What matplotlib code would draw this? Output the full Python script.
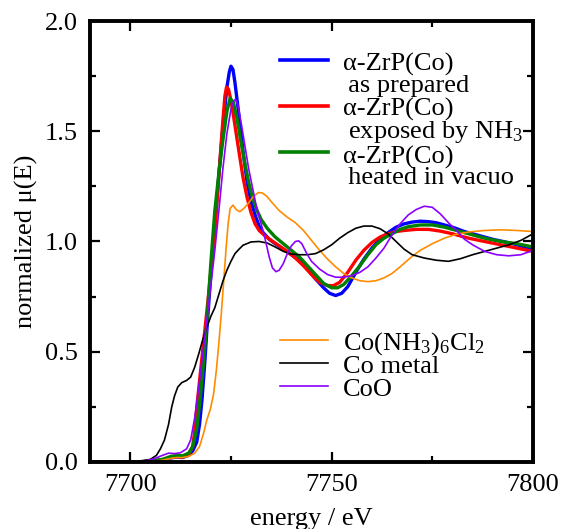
import matplotlib
matplotlib.use("Agg")
import matplotlib.pyplot as plt
from matplotlib.ticker import MultipleLocator

plt.rcParams['font.family'] = ['Liberation Serif', 'DejaVu Serif']
plt.rcParams['mathtext.fontset'] = 'custom'
plt.rcParams['mathtext.rm'] = 'Liberation Serif'
plt.rcParams['mathtext.it'] = 'Liberation Serif:italic'

# --- data (energy in eV, normalized mu(E)) ---
e_prep = [7690, 7700, 7705, 7708, 7710, 7711.5, 7713, 7714.5, 7715.5, 7716.5,
          7717.2, 7717.8, 7718.5, 7719.1, 7720, 7721, 7722, 7723, 7724, 7724.6,
          7725, 7725.5, 7726, 7727, 7728, 7729, 7730, 7731, 7732, 7733, 7734.5,
          7736, 7738, 7740, 7742, 7744, 7746, 7748, 7749.5, 7751, 7752.5, 7754,
          7756, 7758, 7760, 7762, 7764, 7766, 7768, 7770, 7772, 7774, 7776,
          7778, 7780, 7783, 7786, 7790, 7795, 7800]
mu_prep = [0.0, 0.0, 0.003, 0.01, 0.018, 0.022, 0.02, 0.03, 0.05, 0.09,
           0.17, 0.28, 0.45, 0.62, 0.85, 1.07, 1.30, 1.52, 1.70, 1.77,
           1.795, 1.78, 1.72, 1.57, 1.41, 1.27, 1.18, 1.12, 1.07, 1.04, 1.01,
           0.99, 0.965, 0.94, 0.915, 0.875, 0.83, 0.79, 0.765, 0.755, 0.765, 0.795,
           0.86, 0.92, 0.97, 1.01, 1.04, 1.065, 1.08, 1.088, 1.092, 1.09, 1.085,
           1.075, 1.065, 1.045, 1.03, 1.01, 0.99, 0.965]

e_nh3 = [7690, 7700, 7705, 7708, 7710, 7711.5, 7713, 7714.5, 7715.5, 7716,
         7716.7, 7717.5, 7718.3, 7719, 7720, 7721, 7722, 7723, 7723.5, 7723.9,
         7724.4, 7725, 7725.8, 7726.8, 7728, 7729, 7730, 7731, 7732, 7733.5,
         7735, 7737, 7739, 7741, 7743, 7745, 7747, 7749, 7750.5, 7752, 7754,
         7756, 7758, 7760, 7762, 7764, 7766, 7768, 7771, 7774, 7777, 7780,
         7784, 7788, 7792, 7796, 7800]
mu_nh3 = [0.0, 0.0, 0.003, 0.01, 0.02, 0.025, 0.022, 0.035, 0.07, 0.14,
          0.28, 0.42, 0.56, 0.68, 0.86, 1.05, 1.30, 1.55, 1.66, 1.70,
          1.69, 1.64, 1.55, 1.43, 1.29, 1.20, 1.13, 1.08, 1.05, 1.025,
          1.005, 0.98, 0.955, 0.925, 0.89, 0.85, 0.815, 0.80, 0.80, 0.815, 0.86,
          0.915, 0.96, 0.995, 1.02, 1.035, 1.045, 1.05, 1.055, 1.055, 1.047, 1.035,
          1.015, 1.0, 0.985, 0.97, 0.955]

e_vac = [7690, 7700, 7705, 7708, 7710, 7711.5, 7713, 7714.5, 7715.5, 7716.5,
         7717.3, 7718.2, 7719, 7720, 7721, 7722, 7723, 7724, 7724.8, 7725.6,
         7726.5, 7727.5, 7728.5, 7729.5, 7730.5, 7731.5, 7732.5, 7734, 7736,
         7738, 7740, 7742, 7744, 7746, 7748, 7750, 7751.5, 7753, 7755, 7757,
         7759, 7761, 7763, 7765, 7767, 7769, 7772, 7775, 7778, 7781, 7784,
         7788, 7792, 7796, 7800]
mu_vac = [0.0, 0.0, 0.003, 0.012, 0.025, 0.03, 0.028, 0.04, 0.07, 0.15,
          0.28, 0.45, 0.63, 0.90, 1.14, 1.31, 1.46, 1.59, 1.65, 1.63,
          1.56, 1.45, 1.35, 1.26, 1.19, 1.14, 1.10, 1.06, 1.02,
          0.99, 0.96, 0.93, 0.89, 0.85, 0.81, 0.79, 0.79, 0.805, 0.845, 0.89,
          0.94, 0.985, 1.015, 1.035, 1.055, 1.067, 1.075, 1.075, 1.065, 1.05, 1.035,
          1.015, 1.0, 0.99, 0.975]

e_cohex = [7690, 7700, 7706, 7708, 7710, 7711.5, 7713, 7714.5, 7716, 7717.2,
           7718.2, 7719, 7719.9, 7720.7, 7721.4, 7722, 7722.6, 7723.2, 7723.8,
           7724.3, 7724.8, 7725.5, 7726.3, 7727.2, 7728.2, 7729.4, 7730.6,
           7731.8, 7732.8, 7733.9, 7735.5, 7737, 7739, 7741, 7743, 7745, 7747,
           7749, 7751, 7753, 7755, 7757, 7759, 7761, 7763, 7765, 7767, 7769.5,
           7772, 7775, 7778, 7781, 7784, 7788, 7792, 7796, 7800]
mu_cohex = [0.0, 0.0, 0.003, 0.008, 0.016, 0.02, 0.02, 0.025, 0.04, 0.07,
            0.13, 0.19, 0.24, 0.31, 0.42, 0.54, 0.67, 0.82, 0.97,
            1.08, 1.15, 1.165, 1.145, 1.135, 1.15, 1.175, 1.205,
            1.222, 1.22, 1.205, 1.17, 1.14, 1.11, 1.085, 1.05, 1.005, 0.96,
            0.92, 0.885, 0.855, 0.835, 0.822, 0.818, 0.822, 0.835, 0.855, 0.885, 0.925,
            0.96, 0.99, 1.015, 1.033, 1.043, 1.05, 1.053, 1.05, 1.045]

e_metal = [7690, 7700, 7703, 7705, 7706.5, 7707.5, 7708.5, 7709.5, 7710.3, 7711,
           7711.8, 7712.8, 7714, 7715, 7716, 7717, 7718, 7719, 7720, 7721, 7722,
           7723, 7724, 7725, 7726, 7727, 7728, 7730, 7732, 7734, 7736, 7738,
           7740, 7742, 7744, 7746, 7748, 7750, 7752, 7754, 7756, 7758, 7760,
           7762, 7764, 7766, 7768, 7770, 7773, 7776, 7779, 7782, 7785, 7788,
           7791, 7794, 7797, 7800]
mu_metal = [0.0, 0.002, 0.005, 0.012, 0.03, 0.06, 0.10, 0.17, 0.25, 0.30,
            0.34, 0.36, 0.37, 0.385, 0.43, 0.49, 0.555, 0.61, 0.66, 0.70, 0.76,
            0.82, 0.87, 0.91, 0.945, 0.965, 0.983, 0.998, 1.0, 0.993, 0.975, 0.955,
            0.943, 0.94, 0.94, 0.945, 0.962, 0.985, 1.015, 1.04, 1.06, 1.07, 1.07,
            1.058, 1.035, 1.0, 0.965, 0.94, 0.925, 0.915, 0.91, 0.922, 0.94, 0.955,
            0.97, 0.985, 1.005, 1.035]

e_coo = [7690, 7700, 7704, 7706, 7708, 7709.5, 7711, 7712.5, 7714, 7715, 7716,
         7717, 7718, 7719, 7720, 7721, 7722, 7723, 7724, 7725, 7725.6, 7726.1,
         7726.7, 7727.7, 7728.5, 7729.4, 7730.4, 7731.4, 7732.5, 7733.5, 7734.5,
         7735.3, 7736.2, 7737, 7738, 7739, 7740, 7741, 7741.8, 7742.6, 7743.8,
         7745, 7747, 7749, 7751, 7753, 7755, 7757, 7759, 7761, 7763, 7765,
         7767, 7769, 7771, 7773, 7775, 7777, 7779, 7781, 7783, 7785, 7788,
         7791, 7794, 7797, 7800]
mu_coo = [0.0, 0.002, 0.006, 0.015, 0.03, 0.04, 0.038, 0.042, 0.06, 0.10, 0.20,
          0.34, 0.49, 0.64, 0.80, 0.96, 1.14, 1.33, 1.49, 1.60, 1.635, 1.645,
          1.62, 1.52, 1.43, 1.33, 1.24, 1.15, 1.08, 1.01, 0.93,
          0.88, 0.863, 0.87, 0.90, 0.945, 0.98, 1.0, 1.003, 0.99, 0.946,
          0.91, 0.875, 0.85, 0.838, 0.838, 0.845, 0.86, 0.885, 0.925, 0.97, 1.03,
          1.08, 1.12, 1.145, 1.16, 1.155, 1.125, 1.085, 1.05, 1.01, 0.985, 0.955,
          0.94, 0.935, 0.94, 0.96]

samples = [
    (e_prep, mu_prep, '#0000ff', '\u03b1-ZrP(Co)\n\u2009as prepared'),
    (e_nh3, mu_nh3, '#ff0000', '\u03b1-ZrP(Co)\n\u2009exposed by NH$_3$'),
    (e_vac, mu_vac, '#008000', '\u03b1-ZrP(Co)\n\u2009heated in vacuo'),
]
references = [
    (e_cohex, mu_cohex, '#ff8c00', 'Co(NH$_3$)$_6$Cl$_2$'),
    (e_metal, mu_metal, '#000000', 'Co metal'),
    (e_coo, mu_coo, '#8b00ff', 'CoO'),
]


def main():
    fig = plt.figure(figsize=(5.61, 5.29), dpi=100)
    ax = fig.add_axes([0.1604, 0.1267, 0.7897, 0.8336])

    for e, mu, c, _ in samples:
        ax.plot(e, mu, color=c, lw=2.4, solid_joinstyle='round')
    for e, mu, c, _ in references:
        ax.plot(e, mu, color=c, lw=1.2, solid_joinstyle='round')

    ax.set_xlim(7690, 7800)
    ax.set_ylim(0, 2.0)
    ax.xaxis.set_major_locator(MultipleLocator(50))
    ax.xaxis.set_minor_locator(MultipleLocator(25))
    ax.yaxis.set_major_locator(MultipleLocator(0.5))
    ax.yaxis.set_minor_locator(MultipleLocator(0.25))
    ax.yaxis.set_major_formatter(plt.FormatStrFormatter('%.1f'))
    ax.tick_params(which='both', direction='in', top=True, right=True,
                   width=1.6, labelsize=19)
    ax.tick_params(which='major', length=7, pad=9)
    ax.tick_params(which='minor', length=4.5)
    for s in ax.spines.values():
        s.set_linewidth(2.8)

    ax.set_xlabel('energy / eV', fontsize=19)
    ax.set_ylabel('normalized \u03bc(E)', fontsize=19)
    ax.xaxis.set_label_coords(0.5, -0.105)
    ax.yaxis.set_label_coords(-0.118, 0.5)

    # hand-made legends (handle line + text), axes fraction units;
    # the two-line labels are anchored on the baseline of their second line
    h0, h1, tx = 0.429, 0.537, 0.571
    y = 0.912
    for _, _, c, lab in samples:
        ax.plot([h0, h1], [y, y], color=c, lw=2.6, transform=ax.transAxes)
        ax.text(tx, y - 0.0726, lab, transform=ax.transAxes, fontsize=19,
                va='baseline', ha='left', linespacing=0.92)
        y -= 0.105
    y = 0.277
    for _, _, c, lab in references:
        ax.plot([h0, h1], [y, y], color=c, lw=1.2, transform=ax.transAxes)
        ax.text(tx, y - 0.023, lab, transform=ax.transAxes, fontsize=19,
                va='baseline', ha='left')
        y -= 0.0525

    fig.savefig('out.png', dpi=100)


main()
